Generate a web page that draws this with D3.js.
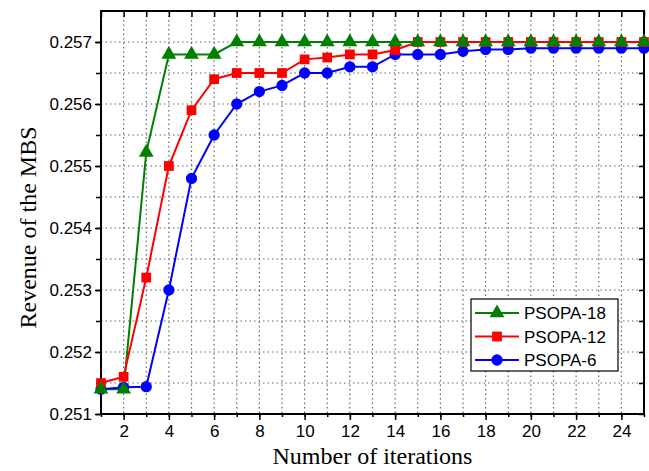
<!DOCTYPE html>
<html>
<head>
<meta charset="utf-8">
<script src="https://cdn.jsdelivr.net/npm/d3@7"></script>
<style>
body { margin: 0; background: #fff; }
.tick text { font-family: "Liberation Sans", Arial, sans-serif; font-size: 17px; fill: #000; }
.title { font-family: "Liberation Serif", "Times New Roman", serif; font-size: 24px; fill: #000; }
.grid line { stroke: #666; stroke-dasharray: 1.5,3; stroke-width: 1.2; }
</style>
</head>
<body>
<div id="chart"></div>
<script>
var width = 649, height = 471;
var margin = {top: 11, right: 5, bottom: 57, left: 101};

var iterations = d3.range(1, 26);
var psopa18 = [0.2514, 0.2514, 0.25522, 0.2568, 0.2568, 0.2568, 0.2570, 0.2570, 0.2570, 0.2570,
  0.2570, 0.2570, 0.2570, 0.2570, 0.2570, 0.2570, 0.2570, 0.2570, 0.2570, 0.2570,
  0.2570, 0.2570, 0.2570, 0.2570, 0.2570];
var psopa12 = [0.2515, 0.2516, 0.2532, 0.2550, 0.2559, 0.2564, 0.2565, 0.2565, 0.2565, 0.25672,
  0.25675, 0.2568, 0.2568, 0.25687, 0.2570, 0.2570, 0.2570, 0.2570, 0.2570, 0.2570,
  0.2570, 0.2570, 0.2570, 0.2570, 0.2570];
var psopa6 = [0.2514, 0.25143, 0.25144, 0.2530, 0.2548, 0.2555, 0.2560, 0.2562, 0.2563, 0.2565,
  0.2565, 0.2566, 0.2566, 0.2568, 0.2568, 0.2568, 0.25685, 0.25688, 0.25688, 0.2569,
  0.2569, 0.2569, 0.2569, 0.2569, 0.2569];
var xTicks = [2, 4, 6, 8, 10, 12, 14, 16, 18, 20, 22, 24];
var yTicks = [0.251, 0.252, 0.253, 0.254, 0.255, 0.256, 0.257];

var series = [
  {name: "PSOPA-18", values: psopa18, color: "#008000", symbol: d3.symbolTriangle, size: 95},
  {name: "PSOPA-12", values: psopa12, color: "#ff0000", symbol: d3.symbolSquare, size: 95},
  {name: "PSOPA-6", values: psopa6, color: "#0000ff", symbol: d3.symbolCircle, size: 100}
];

var svg = d3.select("#chart").append("svg")
  .attr("width", width)
  .attr("height", height);

var w = width - margin.left - margin.right;
var h = height - margin.top - margin.bottom;

var x = d3.scaleLinear().domain([1, 25]).range([margin.left, margin.left + w]);
var y = d3.scaleLinear().domain([0.251, 0.2575]).range([margin.top + h, margin.top]);

var minorX = d3.range(1, 26);
var minorY = d3.range(0, 13).map(function(i){ return 0.251 + i * 0.0005; });

// grid
var grid = svg.append("g").attr("class", "grid");
grid.selectAll(".gx").data(minorX.slice(1, -1)).enter().append("line")
  .attr("x1", function(d){ return x(d); }).attr("x2", function(d){ return x(d); })
  .attr("y1", margin.top).attr("y2", margin.top + h);
grid.selectAll(".gy").data(minorY.slice(1)).enter().append("line")
  .attr("y1", function(d){ return y(d); }).attr("y2", function(d){ return y(d); })
  .attr("x1", margin.left).attr("x2", margin.left + w);

// axes
svg.append("g")
  .attr("transform", "translate(0," + (margin.top + h) + ")")
  .call(d3.axisBottom(x).tickValues(xTicks).tickSize(6).tickSizeOuter(0).tickPadding(5).tickFormat(d3.format("d")));
svg.append("g")
  .attr("transform", "translate(0," + (margin.top + h) + ")")
  .call(d3.axisBottom(x).tickValues(minorX).tickSize(3).tickSizeOuter(0).tickFormat(""));
svg.append("g")
  .attr("transform", "translate(" + margin.left + ",0)")
  .call(d3.axisLeft(y).tickValues(yTicks).tickSize(6).tickSizeOuter(0).tickPadding(3).tickFormat(d3.format(".3f")));
svg.append("g")
  .attr("transform", "translate(" + margin.left + ",0)")
  .call(d3.axisLeft(y).tickValues(minorY).tickSize(5).tickSizeOuter(0).tickFormat(""));
svg.append("g")
  .attr("transform", "translate(0," + margin.top + ")")
  .call(d3.axisBottom(x).tickValues(minorX).tickSize(6).tickSizeOuter(0).tickFormat(""));
svg.append("g")
  .attr("transform", "translate(" + (margin.left + w) + ",0)")
  .call(d3.axisLeft(y).tickValues(minorY).tickSize(5).tickSizeOuter(0).tickFormat(""));

svg.selectAll(".domain").remove();
svg.selectAll(".tick line").attr("stroke", "#000").attr("stroke-width", 1.5);

svg.append("rect")
  .attr("x", margin.left).attr("y", margin.top)
  .attr("width", w).attr("height", h)
  .attr("fill", "none").attr("stroke", "#000").attr("stroke-width", 2);

// lines
var line = d3.line()
  .x(function(d, i){ return x(iterations[i]); })
  .y(function(d){ return y(d); });

series.forEach(function(s){
  svg.append("path")
    .datum(s.values)
    .attr("d", line)
    .attr("fill", "none")
    .attr("stroke", s.color)
    .attr("stroke-width", 2);
});
series.slice().reverse().forEach(function(s){
  svg.selectAll(null).data(s.values).enter().append("path")
    .attr("d", d3.symbol().type(s.symbol).size(s.size))
    .attr("transform", function(d, i){ return "translate(" + x(iterations[i]) + "," + y(d) + ")"; })
    .attr("fill", s.color);
});

// titles
svg.append("text").attr("class", "title")
  .attr("x", margin.left + w / 2).attr("y", 464)
  .attr("text-anchor", "middle")
  .text("Number of iterations");
svg.append("text").attr("class", "title")
  .attr("transform", "translate(36," + (margin.top + h / 2 + 15) + ") rotate(-90)")
  .attr("text-anchor", "middle")
  .text("Revenue of the MBS");

// legend
var legend = svg.append("g").attr("transform", "translate(471,299)");
legend.append("rect")
  .attr("width", 147).attr("height", 72)
  .attr("fill", "#fff").attr("stroke", "#000").attr("stroke-width", 1.2);
series.forEach(function(s, i){
  var ly = 14 + i * 23.5;
  legend.append("line")
    .attr("x1", 4).attr("x2", 48).attr("y1", ly).attr("y2", ly)
    .attr("stroke", s.color).attr("stroke-width", 2);
  legend.append("path")
    .attr("d", d3.symbol().type(s.symbol).size(s.size))
    .attr("transform", "translate(26," + ly + ")")
    .attr("fill", s.color);
  legend.append("text")
    .attr("x", 53).attr("y", ly + 6)
    .attr("font-family", "Liberation Sans, Arial, sans-serif")
    .attr("font-size", "17px")
    .text(s.name);
});
</script>
</body>
</html>
